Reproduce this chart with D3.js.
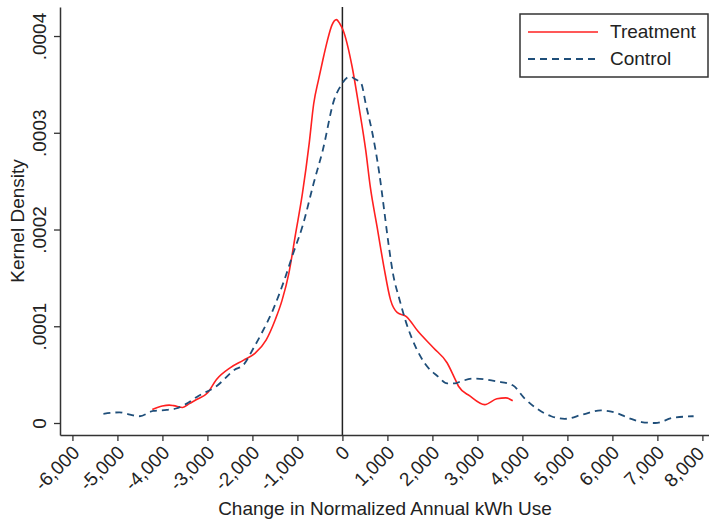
<!DOCTYPE html>
<html>
<head>
<meta charset="utf-8">
<script src="https://cdn.jsdelivr.net/npm/d3@7"></script>
<style>
  body { margin: 0; background: white; }
  text { font-family: "Liberation Sans", Arial, sans-serif; fill: #222; }
</style>
</head>
<body>
<script>
// values
var treatX = [-4225, -4004, -3850, -3753, -3550, -3400, -3251, -3000, -2798, -2496, -2195, -1944, -1693, -1491, -1340, -1189, -1039, -889, -738, -638, -530, -436, -335, -235, -134, -60, 16, 217, 367, 518, 620, 770, 920, 1071, 1222, 1422, 1675, 2027, 2329, 2478, 2580, 2831, 3162, 3433, 3631, 3785];
var treatY = [1.4e-5, 1.75e-5, 1.85e-5, 1.8e-5, 1.6e-5, 2.0e-5, 2.4e-5, 3.1e-5, 4.5e-5, 5.7e-5, 6.5e-5, 7.2e-5, 8.6e-5, 1.07e-4, 1.27e-4, 1.55e-4, 1.96e-4, 2.37e-4, 2.89e-4, 3.3e-4, 3.55e-4, 3.75e-4, 3.95e-4, 4.11e-4, 4.17e-4, 4.13e-4, 4.06e-4, 3.68e-4, 3.27e-4, 2.82e-4, 2.44e-4, 2.03e-4, 1.62e-4, 1.27e-4, 1.14e-4, 1.1e-4, 9.5e-5, 7.75e-5, 6.2e-5, 4.8e-5, 3.8e-5, 2.8e-5, 1.9e-5, 2.5e-5, 2.6e-5, 2.3e-5];

var ctrlX = [-5311, -4958, -4750, -4507, -4204, -3904, -3700, -3502, -3200, -2800, -2396, -2200, -1993, -1793, -1542, -1289, -1089, -889, -638, -436, -184, -30, 156, 300, 418, 518, 669, 820, 920, 1022, 1122, 1273, 1422, 1624, 1825, 2127, 2329, 2500, 2629, 2931, 3433, 3785, 4037, 4288, 4640, 4941, 5343, 5744, 6047, 6349, 6649, 6951, 7353, 7805];
var ctrlY = [9.5e-6, 1.1e-5, 9e-6, 7e-6, 1.25e-5, 1.35e-5, 1.5e-5, 1.9e-5, 2.8e-5, 3.8e-5, 5.5e-5, 6.0e-5, 7.6e-5, 9.3e-5, 1.17e-4, 1.48e-4, 1.76e-4, 2.03e-4, 2.48e-4, 2.82e-4, 3.34e-4, 3.49e-4, 3.58e-4, 3.55e-4, 3.51e-4, 3.30e-4, 2.99e-4, 2.58e-4, 2.23e-4, 1.86e-4, 1.55e-4, 1.27e-4, 1.03e-4, 7.9e-5, 6.2e-5, 4.8e-5, 4.1e-5, 4.1e-5, 4.3e-5, 4.6e-5, 4.3e-5, 3.9e-5, 2.6e-5, 1.6e-5, 7e-6, 4.3e-6, 8.8e-6, 1.3e-5, 1.1e-5, 5.4e-6, 1e-6, 0, 5.4e-6, 7e-6];

var xTicks = [-6000, -5000, -4000, -3000, -2000, -1000, 0, 1000, 2000, 3000, 4000, 5000, 6000, 7000, 8000];
var yTicks = [0, 0.0001, 0.0002, 0.0003, 0.0004];
var seriesNames = ["Treatment", "Control"];
var xTitle = "Change in Normalized Annual kWh Use";
var yTitle = "Kernel Density";

var W = 709, H = 523;
var plot = {left: 60, right: 709, top: 7, bottom: 435};
var fs = 19;

var svg = d3.select("body").append("svg")
    .attr("width", W)
    .attr("height", H)

var xScale = d3.scaleLinear()
    .domain([-6276, 8147])
    .range([plot.left, plot.right])
var yScale = d3.scaleLinear()
    .domain([-0.0000124, 0.00043])
    .range([plot.bottom, plot.top])

// zero reference line
svg.append("line")
    .attr("x1", xScale(0)).attr("x2", xScale(0))
    .attr("y1", plot.top).attr("y2", plot.bottom)
    .attr("stroke", "#222")
    .attr("stroke-width", 1.5)

var line = d3.line()
    .x(d => xScale(d[0]))
    .y(d => yScale(d[1]))
    .curve(d3.curveMonotoneX)

svg.append("path")
    .datum(treatX.map((x, i) => [x, treatY[i]]))
    .attr("d", line)
    .attr("fill", "none")
    .attr("stroke", "#ff2020")
    .attr("stroke-width", 1.6)

svg.append("path")
    .datum(ctrlX.map((x, i) => [x, ctrlY[i]]))
    .attr("d", line)
    .attr("fill", "none")
    .attr("stroke", "#1f4e79")
    .attr("stroke-width", 1.8)
    .attr("stroke-dasharray", "7,5")

// axes
var xAxis = d3.axisBottom(xScale)
    .tickValues(xTicks)
    .tickFormat(d => d3.format(",")(d).replace("\u2212", "-"))
    .tickSize(6)
    .tickSizeOuter(0)
var yAxis = d3.axisLeft(yScale)
    .tickValues(yTicks)
    .tickFormat(d => d === 0 ? "0" : d3.format(".4f")(d).replace(/^0/, ""))
    .tickSize(6)
    .tickSizeOuter(0)

var gx = svg.append("g")
    .attr("transform", "translate(0," + plot.bottom + ")")
    .call(xAxis)
gx.select(".domain").attr("stroke", "#333").attr("stroke-width", 1.5)
gx.selectAll(".tick line").attr("stroke", "#333").attr("stroke-width", 1.3)
// last label sits against the window edge, nudge it in a little
gx.selectAll(".tick text")
    .attr("font-size", fs)
    .attr("fill", "#222")
    .attr("text-anchor", "end")
    .attr("x", 0).attr("y", 0).attr("dy", "0.35em")
    .attr("transform", (d, i) => i === xTicks.length - 1 ? "translate(-2,15) rotate(-45)" : "translate(3,14) rotate(-45)")

var gy = svg.append("g")
    .attr("transform", "translate(" + plot.left + ",0)")
    .call(yAxis)
gy.select(".domain").attr("stroke", "#333").attr("stroke-width", 1.5)
gy.selectAll(".tick line").attr("stroke", "#333").attr("stroke-width", 1.3)
gy.selectAll(".tick text")
    .attr("font-size", fs)
    .attr("fill", "#222")
    .attr("text-anchor", "middle")
    .attr("x", 0).attr("y", 0).attr("dy", 0)
    .attr("transform", "translate(-14,0) rotate(-90)")

// titles
svg.append("text")
    .attr("x", 385)
    .attr("y", 515)
    .attr("text-anchor", "middle")
    .attr("font-size", fs)
    .text(xTitle)
svg.append("text")
    .attr("transform", "translate(24," + ((plot.top + plot.bottom) / 2) + ") rotate(-90)")
    .attr("text-anchor", "middle")
    .attr("font-size", fs)
    .text(yTitle)

// legend
var lg = svg.append("g").attr("transform", "translate(520,14)")
lg.append("rect")
    .attr("width", 188).attr("height", 63)
    .attr("fill", "white")
    .attr("stroke", "#333")
    .attr("stroke-width", 1.5)
var legendRows = [
  {name: seriesNames[0], color: "#ff2020", dash: null, w: 1.6},
  {name: seriesNames[1], color: "#1f4e79", dash: "7,5", w: 1.8}
]
legendRows.forEach((r, i) => {
  var yy = 18 + i * 27
  lg.append("line")
      .attr("x1", 8).attr("x2", 78)
      .attr("y1", yy).attr("y2", yy)
      .attr("stroke", r.color)
      .attr("stroke-width", r.w)
      .attr("stroke-dasharray", r.dash)
  lg.append("text")
      .attr("x", 90).attr("y", yy + 6)
      .attr("font-size", fs)
      .text(r.name)
})
</script>
</body>
</html>
